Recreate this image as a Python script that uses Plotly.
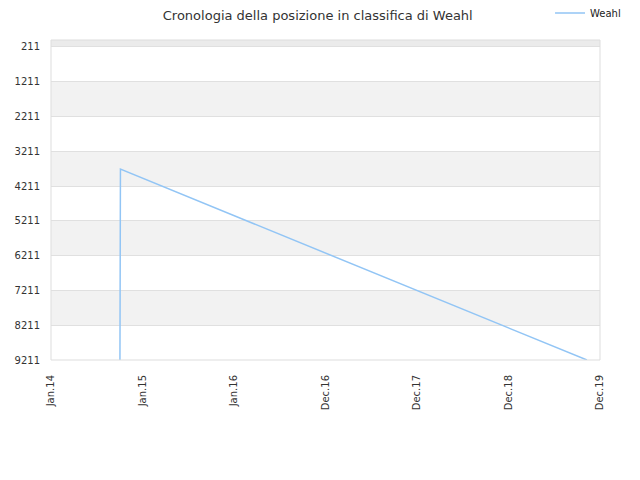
import plotly.graph_objects as go

dates = ["2014-10-03", "2014-10-03", "2014-10-03", "2014-10-04", "2014-10-04",
         "2014-10-04", "2014-10-05", "2014-10-05", "2019-11-09"]
ranks = [9211, 6011, 4954, 4640, 4440, 4268, 3982, 3725, 9211]

y_ticks = [211, 1211, 2211, 3211, 4211, 5211, 6211, 7211, 8211, 9211]
x_tick_vals = ["2014-01-01", "2015-01-01", "2016-01-01", "2016-12-31",
               "2017-12-31", "2018-12-31", "2019-12-31"]
x_tick_text = ["Jan.14", "Jan.15", "Jan.16", "Dec.16", "Dec.17", "Dec.18", "Dec.19"]
y_top = 11

fig = go.Figure()
fig.add_trace(go.Scatter(x=dates, y=ranks, mode="lines", name="Weahl",
                         line=dict(color="#92c5f5", width=1.5)))

shapes = []
for i in range(len(y_ticks) - 1):
    if i % 2 == 1:
        shapes.append(dict(type="rect", xref="paper", yref="y", x0=0, x1=1,
                           y0=y_ticks[i], y1=y_ticks[i + 1],
                           fillcolor="#f2f2f2", line=dict(width=0), layer="below"))
shapes.append(dict(type="rect", xref="paper", yref="y", x0=0, x1=1,
                   y0=y_top, y1=y_ticks[0], fillcolor="#ebebeb",
                   line=dict(width=0), layer="below"))
shapes.append(dict(type="rect", xref="paper", yref="paper", x0=0, x1=1, y0=0, y1=1,
                   line=dict(color="#dddddd", width=1)))

fig.update_layout(
    width=640, height=480,
    margin=dict(l=43, r=48, t=32, b=128, autoexpand=False),
    paper_bgcolor="white", plot_bgcolor="white",
    font=dict(family="DejaVu Sans", size=10, color="#333333"),
    title=dict(text="Cronologia della posizione in classifica di Weahl",
               x=0.484, xanchor="center", y=0.985, yanchor="middle",
               font=dict(size=13, color="#333333")),
    showlegend=True,
    legend=dict(x=0.909, xanchor="left", y=1.084, yanchor="middle",
                orientation="h", font=dict(size=10, color="#222222"),
                bgcolor="rgba(0,0,0,0)"),
    shapes=shapes,
    xaxis=dict(type="date", range=["2014-01-01", "2019-12-31"],
               tickvals=x_tick_vals, ticktext=x_tick_text, tickangle=-90,
               showgrid=False, zeroline=False, showline=False,
               ticks="", ticklabelstandoff=12,
               tickfont=dict(size=10, color="#333333")),
    yaxis=dict(range=[9211, y_top], tickvals=y_ticks,
               showgrid=True, gridcolor="#e0e0e0", gridwidth=1,
               zeroline=False, showline=False, ticks="", ticklabelstandoff=10,
               tickfont=dict(size=10, color="#333333")),
)

fig.write_html("out.html")
